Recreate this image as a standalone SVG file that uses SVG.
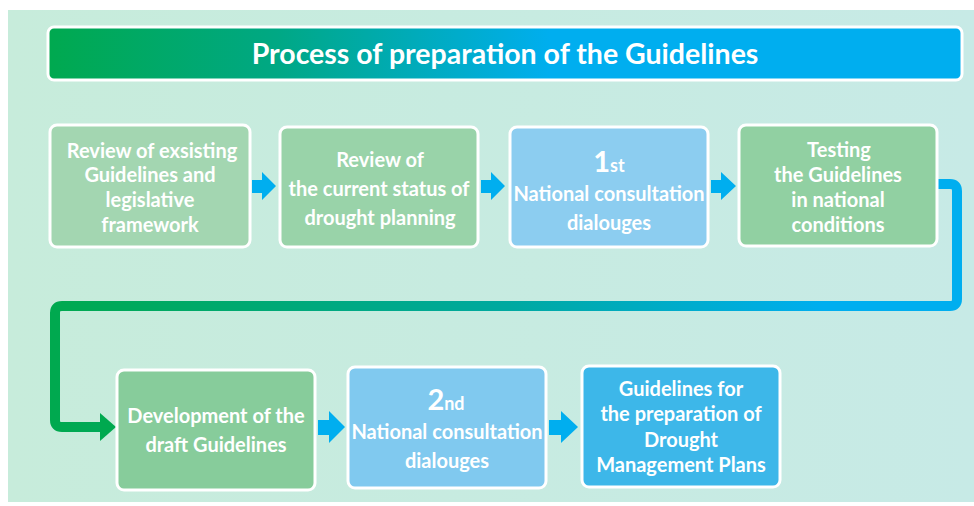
<svg xmlns="http://www.w3.org/2000/svg" width="974" height="506" viewBox="0 0 974 506">
<defs>
<linearGradient id="bg" x1="0" y1="0" x2="1" y2="0"><stop offset="0" stop-color="#c7ecdb"/><stop offset="1" stop-color="#c7eae6"/></linearGradient>
<linearGradient id="tg" x1="0" y1="0" x2="1" y2="0"><stop offset="0" stop-color="#00a94f"/><stop offset="0.25" stop-color="#00a884"/><stop offset="0.55" stop-color="#00aeef"/><stop offset="1" stop-color="#00aeef"/></linearGradient>
<linearGradient id="cg" gradientUnits="userSpaceOnUse" x1="55" y1="0" x2="960" y2="0"><stop offset="0" stop-color="#00a94f"/><stop offset="0.5" stop-color="#00a9a0"/><stop offset="0.85" stop-color="#00aeef"/><stop offset="1" stop-color="#00aeef"/></linearGradient>
<style>
.box{stroke:#ffffff;stroke-width:3}
.t{font-family:Lato,"Liberation Sans",sans-serif;font-weight:bold;font-size:20px;fill:#ffffff;text-anchor:middle}
.big{font-size:29px}
.sup{font-size:18px}
.arr{fill:#00aeef}
</style>
</defs>
<rect x="8" y="10" width="966" height="492" fill="url(#bg)"/>
<g id="title">
<rect x="48" y="27" width="914" height="53" rx="6" fill="url(#tg)" stroke="#ffffff" stroke-width="3"/>
<text class="t" x="505" y="64" style="font-size:28.5px">Process of preparation of the Guidelines</text>
</g>
<g id="connectors">
<path d="M937 184 H950 Q957 184 957 191 V299 Q957 306 950 306 H62 Q55 306 55 313 V420 Q55 427 62 427 H102" fill="none" stroke="url(#cg)" stroke-width="10"/>
<polygon points="100,413 116,427 100,441" fill="#00a94f"/>
<polygon class="arr" points="252,180 262,180 262,172 276,186 262,200 262,193 252,193"/>
<polygon class="arr" points="481,180 491,180 491,172 505,186 491,200 491,193 481,193"/>
<polygon class="arr" points="711,180 721,180 721,172 736,186 721,200 721,193 711,193"/>
<polygon class="arr" points="318,420 329,420 329,411 345,427 329,443 329,435 318,435"/>
<polygon class="arr" points="549,420 561,420 561,411 578,427 561,443 561,435 549,435"/>
</g>
<g id="n1">
<rect class="box" x="50" y="125" width="200" height="122" rx="7" fill="#a3d6b1"/>
<text class="t" x="152" y="158">Review of exsisting</text>
<text class="t" x="150" y="182">Guidelines and</text>
<text class="t" x="150" y="207">legislative</text>
<text class="t" x="150" y="232">framework</text>
</g>
<g id="n2">
<rect class="box" x="280" y="127" width="198" height="120" rx="7" fill="#99d3a9"/>
<text class="t" x="380" y="167">Review of</text>
<text class="t" x="379" y="196">the current status of</text>
<text class="t" x="380" y="225">drought planning</text>
</g>
<g id="n3">
<rect class="box" x="510" y="127" width="198" height="120" rx="7" fill="#8ccdf0"/>
<text class="t" x="609" y="172"><tspan class="big">1</tspan><tspan class="sup">st</tspan></text>
<text class="t" x="609" y="201">National consultation</text>
<text class="t" x="609" y="230">dialouges</text>
</g>
<g id="n4">
<rect class="box" x="739" y="125" width="198" height="121" rx="7" fill="#91d0a2"/>
<text class="t" x="839" y="157">Testing</text>
<text class="t" x="838" y="182">the Guidelines</text>
<text class="t" x="838" y="207">in national</text>
<text class="t" x="838" y="232">conditions</text>
</g>
<g id="n5">
<rect class="box" x="117" y="370" width="198" height="120" rx="7" fill="#87cc9b"/>
<text class="t" x="216" y="423">Development of the</text>
<text class="t" x="216" y="452">draft Guidelines</text>
</g>
<g id="n6">
<rect class="box" x="348" y="367" width="198" height="121" rx="7" fill="#80c9ef"/>
<text class="t" x="446" y="410"><tspan class="big">2</tspan><tspan class="sup">nd</tspan></text>
<text class="t" x="447" y="439">National consultation</text>
<text class="t" x="447" y="468">dialouges</text>
</g>
<g id="n7">
<rect class="box" x="582" y="366" width="198" height="121" rx="7" fill="#3db7e9"/>
<text class="t" x="681" y="396">Guidelines for</text>
<text class="t" x="681" y="421">the preparation of</text>
<text class="t" x="681" y="447">Drought</text>
<text class="t" x="681" y="472">Management Plans</text>
</g>
</svg>
